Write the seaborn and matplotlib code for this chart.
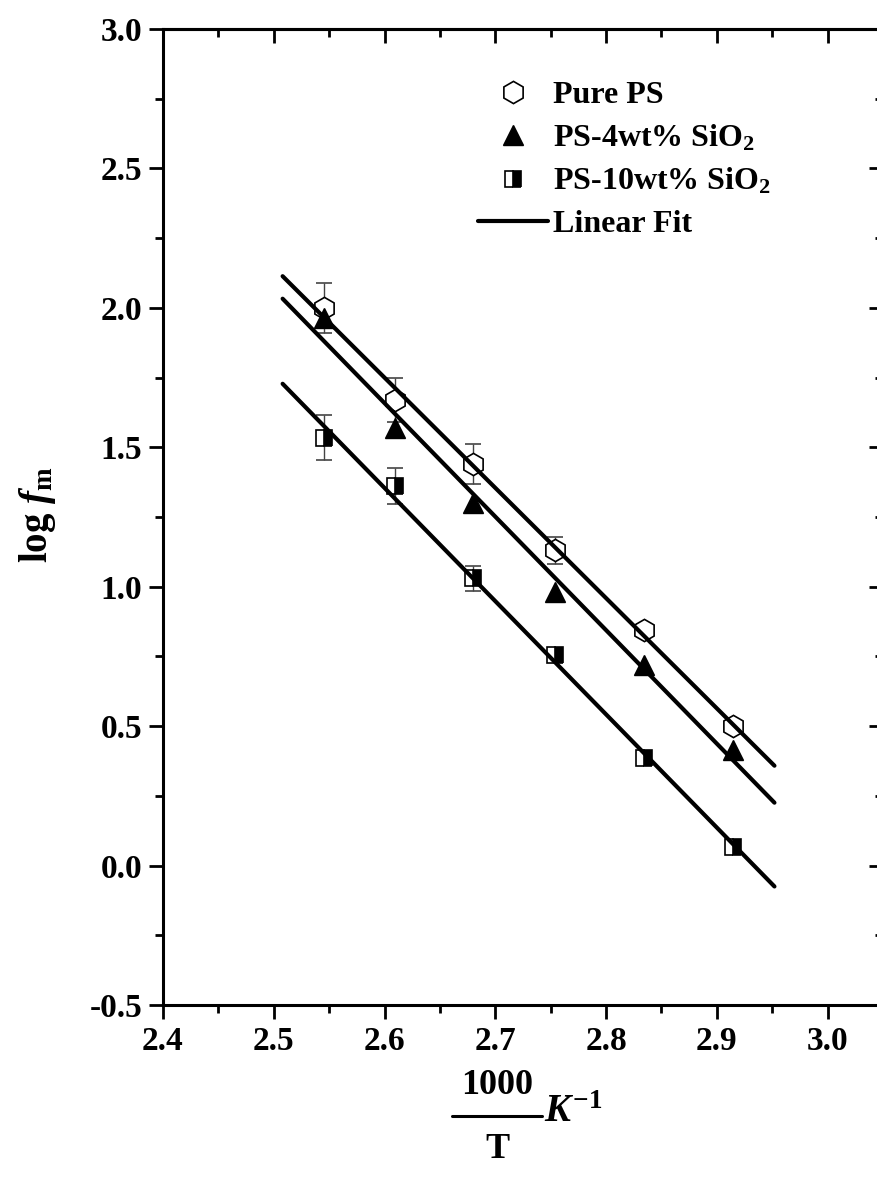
import numpy as np
import pandas as pd
import matplotlib
matplotlib.use("Agg")
import matplotlib.pyplot as plt
import seaborn as sns
from matplotlib.ticker import MultipleLocator

# data
inv_T = [2.545, 2.609, 2.680, 2.754, 2.834, 2.915]
pure_ps = [2.00, 1.67, 1.44, 1.13, 0.845, 0.50]
pure_ps_err = [0.09, 0.08, 0.07, 0.05, 0.02, 0.02]
ps_4 = [1.965, 1.57, 1.30, 0.98, 0.72, 0.415]
ps_10 = [1.535, 1.36, 1.03, 0.755, 0.385, 0.068]
ps_10_err = [0.08, 0.065, 0.045, 0.02, 0.02, 0.02]
fit_range = [2.508, 2.952]

x_ticks = [2.4, 2.5, 2.6, 2.7, 2.8, 2.9, 3.0]
y_ticks = [-0.5, 0.0, 0.5, 1.0, 1.5, 2.0, 2.5, 3.0]

sns.set_theme(style="ticks", rc={"axes.edgecolor": "black", "xtick.color": "black",
                                 "ytick.color": "black", "text.color": "black"})
plt.rcParams["font.family"] = ["Liberation Serif", "DejaVu Serif"]
plt.rcParams["font.weight"] = "bold"
plt.rcParams["mathtext.fontset"] = "custom"
plt.rcParams["mathtext.rm"] = "Liberation Serif:bold"
plt.rcParams["mathtext.bf"] = "Liberation Serif:bold"
plt.rcParams["mathtext.it"] = "Liberation Serif:italic"
plt.rcParams["mathtext.bfit"] = "Liberation Serif:italic:bold"

fig = plt.figure(figsize=(8.77, 11.83), dpi=100)
ax = fig.add_axes([163 / 877, 1 - 1005 / 1183, (883 - 163) / 877, (1005 - 29) / 1183])

series = [
    ("Pure PS", pure_ps, pure_ps_err, dict(marker="h", ms=16, mfc="white", mec="black", mew=1.2)),
    ("PS-4wt% SiO$_{2}$", ps_4, None, dict(marker="^", ms=14, mfc="black", mec="black")),
    ("PS-10wt% SiO$_{2}$", ps_10, ps_10_err, dict(marker="s", ms=12, mfc="black", mec="black",
                                                mew=1.2, fillstyle="right", markerfacecoloralt="white")),
]

handles = []
xs = np.linspace(fit_range[0], fit_range[1], 50)
for name, vals, err, style in series:
    ax.errorbar(inv_T, vals, yerr=err, ls="none", ecolor="#444444", elinewidth=1.0,
                capsize=6, capthick=1.0, zorder=2, **style)
    handles.append(plt.Line2D([], [], ls="none", **style))
    k, b = np.polyfit(inv_T, vals, 1)
    fit = pd.DataFrame({"x": xs, "y": k * xs + b})
    sns.lineplot(data=fit, x="x", y="y", ax=ax, color="black", lw=3, zorder=3)

handles.append(plt.Line2D([], [], color="black", lw=3))
labels = [s[0] for s in series] + ["Linear Fit"]
ax.legend(handles, labels, loc="upper left", bbox_to_anchor=(0.42, 0.96),
          frameon=False, fontsize=23, handlelength=2.2, handletextpad=0.15,
          labelspacing=0.4, borderaxespad=0)

ax.set_xlim(2.4, 3.05)
ax.set_ylim(-0.5, 3.0)
ax.set_xticks(x_ticks)
ax.set_yticks(y_ticks)
ax.set_xticklabels([f"{t:.1f}" for t in x_ticks])
ax.set_yticklabels([f"{t:.1f}" for t in y_ticks])
ax.xaxis.set_minor_locator(MultipleLocator(0.05))
ax.yaxis.set_minor_locator(MultipleLocator(0.25))
ax.tick_params(which="major", direction="out", length=10, width=2, labelsize=24, pad=5)
ax.tick_params(which="minor", direction="out", length=6, width=2)
ax.set_xlabel("")
ax.set_ylabel("")
for sp in ax.spines.values():
    sp.set_linewidth(2.2)
    sp.set_visible(True)

top = ax.secondary_xaxis("top")
top.set_xticks(x_ticks)
top.xaxis.set_minor_locator(MultipleLocator(0.05))
top.tick_params(which="major", direction="in", length=10, width=2, labeltop=False)
top.tick_params(which="minor", direction="in", length=6, width=2)
top.spines["top"].set_linewidth(2.2)
right = ax.secondary_yaxis("right")
right.set_yticks(y_ticks)
right.yaxis.set_minor_locator(MultipleLocator(0.25))
right.tick_params(which="major", direction="in", length=10, width=2, labelright=False)
right.tick_params(which="minor", direction="in", length=6, width=2)

# axis titles
fig.text(38 / 877, 1 - 515 / 1183, r"log $\mathbfit{f}_{\mathbf{m}}$", rotation=90,
         ha="center", va="center", fontsize=28, fontweight="bold")
fig.text(497 / 877, 1 - 1086 / 1183, "1000", ha="center", va="center", fontsize=26, fontweight="bold")
fig.add_artist(plt.Line2D([452 / 877, 542 / 877], [1 - 1116 / 1183] * 2, color="black", lw=2.2))
fig.text(497 / 877, 1 - 1150 / 1183, "T", ha="center", va="center", fontsize=26, fontweight="bold")
fig.text(544 / 877, 1 - 1113 / 1183, r"$\mathit{K}^{\mathit{-1}}$", ha="left", va="center", fontsize=28)

fig.savefig("out.png", dpi=100)
